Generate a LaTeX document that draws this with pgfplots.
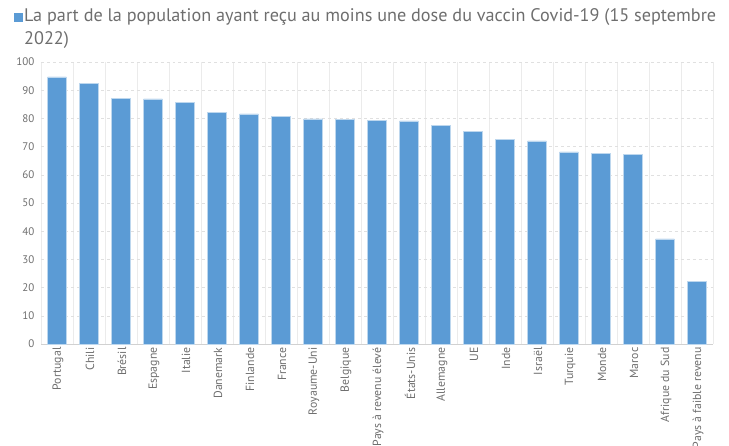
\documentclass[border=0pt]{standalone}
\usepackage{pgfplots}
\pgfplotsset{compat=1.18}
\usepackage{fontspec}
\setmainfont{PT Sans}
\definecolor{barblue}{HTML}{5B9BD5}
\definecolor{txtgray}{HTML}{6E6E6E}
\begin{document}
\begin{tikzpicture}[x=1bp,y=1bp]
\useasboundingbox (0,0) rectangle (729,446);
\node[anchor=north west, align=left, inner sep=0pt, text=txtgray, font=\fontsize{18.2bp}{23bp}\selectfont] at (14,438)
 {\textcolor{barblue}{\rule[-0.5bp]{8.5bp}{8.5bp}}\hspace{1.5bp}La part de la population ayant reçu au moins une dose du vaccin Covid-19 (15 septembre\\\hspace{10bp}2022)};
\begin{axis}[
  at={(41bp,102bp)}, anchor=south west,
  width=672bp, height=282bp, scale only axis,
  xmin=-0.5, xmax=20.5, ymin=0, ymax=100,
  ytick={0,10,...,100},
  xtick={0,...,20},
  xticklabels={Portugal,Chili,Brésil,Espagne,Italie,Danemark,Finlande,France,Royaume-Uni,Belgique,Pays à revenu élevé,États-Unis,Allemagne,UE,Inde,Israël,Turquie,Monde,Maroc,Afrique du Sud,Pays à faible revenu},
  minor xtick={-0.5,0.5,...,20.5},
  xminorgrids, ymajorgrids,
  minor grid style={draw=black!8},
  major grid style={draw=black!12, dashed},
  major tick length=0pt, minor tick length=0pt,
  axis line style={draw=none},
  extra y ticks={0}, extra y tick labels={},
  extra y tick style={grid=major, major grid style={solid, draw=black!18}},
  /pgf/number format/assume math mode=true,
  yticklabel style={font=\fontsize{11bp}{13bp}\selectfont, text=txtgray, xshift=-3bp},
  xticklabel style={font=\fontsize{11.8bp}{13bp}\selectfont, text=txtgray, rotate=90, anchor=east, yshift=-1bp},
  ybar, bar width=0.58, bar shift=0pt,
  clip=false,
]
\addplot[fill=barblue, draw=barblue!40!white, line width=0.6bp] coordinates {
(0,94.7) (1,92.4) (2,87.0) (3,86.9) (4,85.6) (5,82.0) (6,81.6) (7,80.7) (8,79.8) (9,79.5) (10,79.4) (11,79.1) (12,77.4) (13,75.3) (14,72.6) (15,72.0) (16,68.1) (17,67.6) (18,67.2) (19,37.3) (20,22.2)
};
\end{axis}
\end{tikzpicture}
\end{document}
